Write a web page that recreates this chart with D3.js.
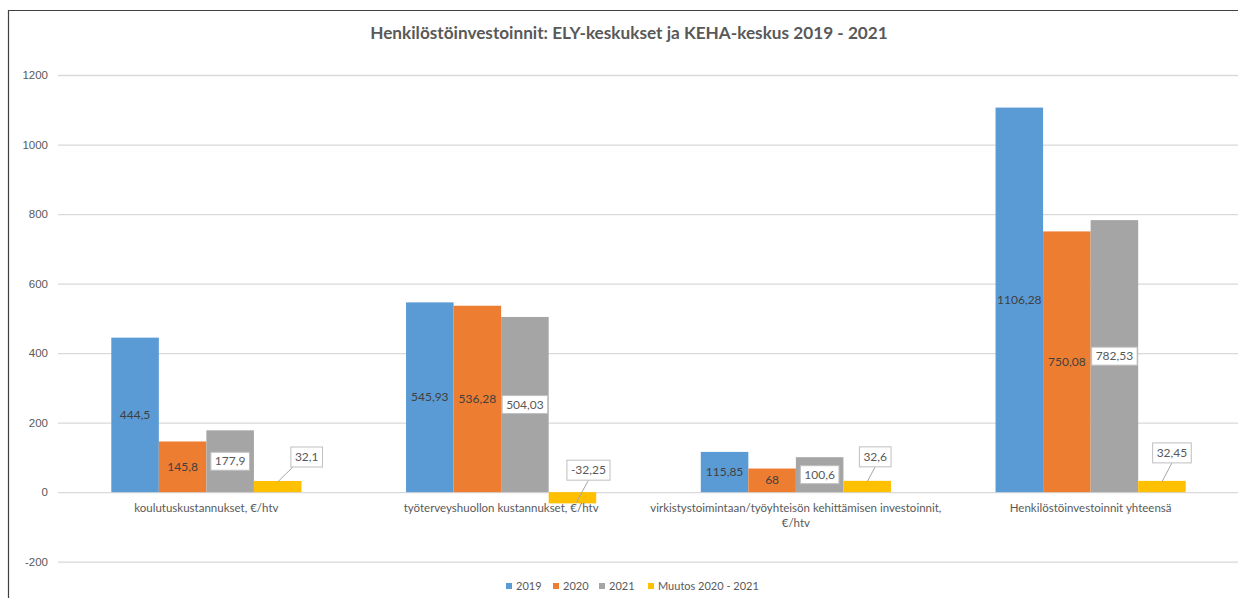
<!DOCTYPE html>
<html><head><meta charset="utf-8">
<script src="https://cdn.jsdelivr.net/npm/d3@7"></script>
<style>
html,body{margin:0;padding:0;background:#fff;}
svg{display:block;font-family:"Lato","Open Sans",sans-serif;}
</style></head>
<body><svg id="chart" width="1238" height="598"></svg>
<script>
const title = "Henkilöstöinvestoinnit: ELY-keskukset ja KEHA-keskus 2019 - 2021";
const categories = [
  ["koulutuskustannukset, €/htv"],
  ["työterveyshuollon kustannukset, €/htv"],
  ["virkistystoimintaan/työyhteisön kehittämisen investoinnit,", "€/htv"],
  ["Henkilöstöinvestoinnit yhteensä"]
];
const seriesNames = ["2019", "2020", "2021", "Muutos 2020 - 2021"];
const values2019 = [444.5, 545.93, 115.85, 1106.28];
const values2020 = [145.8, 536.28, 68, 750.08];
const values2021 = [177.9, 504.03, 100.6, 782.53];
const valuesChange = [32.1, -32.25, 32.6, 32.45];
const yTicks = [-200, 0, 200, 400, 600, 800, 1000, 1200];
const colors = ["#5B9BD5", "#ED7D31", "#A5A5A5", "#FFC000"];
// callout placement (layout only): box centre x offset from bar centre, gap above bar top
const calloutLayout = [[29, 14], [16, 12], [8, 14], [10, 18]];

const series = [values2019, values2020, values2021, valuesChange];
const fmt = v => String(v).replace(".", ",");

const svg = d3.select("#chart");
const W = 1238, H = 598;
const plot = {left: 59, right: 1238, top: 75, bottom: 561.7};

// frame
svg.append("path").attr("d", `M8.5,${H} V10.5 H${W}`).attr("fill", "none")
  .attr("stroke", "#404040").attr("stroke-width", 1.2);

const x0 = d3.scaleBand().domain(d3.range(categories.length))
  .range([plot.left, plot.right]).paddingInner(0).paddingOuter(0);
const x1 = d3.scaleBand().domain(d3.range(series.length))
  .range([0, x0.bandwidth()]).paddingInner(0).paddingOuter(1.1);
const y = d3.scaleLinear().domain([-200, 1200]).range([plot.bottom, plot.top]);

// gridlines + y axis
const yAxis = d3.axisLeft(y).tickValues(yTicks).tickSize(-(plot.right - 58)).tickPadding(10).tickFormat(d => String(d));
const ga = svg.append("g").attr("transform", `translate(58,0)`).call(yAxis);
ga.select(".domain").remove();
ga.selectAll(".tick line").attr("stroke", "#D9D9D9").attr("stroke-width", 1.3);
ga.selectAll(".tick text").attr("fill", "#595959").attr("font-size", 11.5);

// title
svg.append("text").attr("x", 629).attr("y", 39).attr("text-anchor", "middle")
  .attr("font-size", 17.2).attr("font-weight", "bold").attr("fill", "#595959").text(title);

// bars
categories.forEach((c, ci) => {
  series.forEach((s, si) => {
    const v = s[ci];
    const bx = x0(ci) + x1(si);
    svg.append("rect").attr("x", bx).attr("width", x1.bandwidth())
      .attr("y", y(Math.max(0, v))).attr("height", Math.abs(y(v) - y(0)))
      .attr("fill", colors[si]);
  });
});

// category labels
categories.forEach((c, ci) => {
  const t = svg.append("text").attr("x", x0(ci) + x0.bandwidth() / 2).attr("y", 512)
    .attr("text-anchor", "middle").attr("font-size", 11.5).attr("fill", "#595959");
  c.forEach((line, li) => t.append("tspan").attr("x", x0(ci) + x0.bandwidth() / 2)
    .attr("dy", li === 0 ? 0 : 15).text(line));
});

// data labels (centre)
categories.forEach((c, ci) => {
  [0, 1, 2].forEach(si => {
    const v = series[si][ci];
    const cx = x0(ci) + x1(si) + x1.bandwidth() / 2;
    const cy = (y(v) + y(0)) / 2;
    const g = svg.append("g");
    const t = g.append("text").attr("x", cx).attr("y", cy + 4).attr("text-anchor", "middle")
      .attr("font-size", 12).attr("fill", "#404040").text(fmt(v));
    if (si === 2) {
      const bb = t.node().getBBox();
      g.insert("rect", "text").attr("x", bb.x - 4).attr("y", cy - 9).attr("width", bb.width + 8)
        .attr("height", 18).attr("fill", "#fff").attr("stroke", "#BFBFBF");
      t.attr("fill", "#595959");
    }
  });
  // callout for change series
  const v = valuesChange[ci];
  const bcx = x0(ci) + x1(3) + x1.bandwidth() / 2;
  const [dx, gap] = calloutLayout[ci];
  const boxCx = bcx + dx;
  const boxBottom = y(Math.max(0, v)) - gap;
  const g = svg.append("g");
  const t = g.append("text").attr("x", boxCx).attr("y", boxBottom - 6).attr("text-anchor", "middle")
    .attr("font-size", 12).attr("fill", "#595959").text(fmt(v));
  const bb = t.node().getBBox();
  const bl = bb.x - 4, br = bb.x + bb.width + 4;
  const ex = bcx < bl ? bl + 2 : boxCx;
  g.insert("line", "text").attr("x1", v >= 0 ? bcx : bcx + 4).attr("y1", v >= 0 ? y(v) + 1 : y(v) - 1)
    .attr("x2", ex).attr("y2", boxBottom).attr("stroke", "#A6A6A6").attr("stroke-width", 1);
  g.insert("rect", "text").attr("x", bl).attr("y", boxBottom - 20).attr("width", br - bl)
    .attr("height", 20).attr("fill", "#fff").attr("stroke", "#BFBFBF");
});

// legend
const legendX = [506, 553, 599, 648];
seriesNames.forEach((n, i) => {
  svg.append("rect").attr("x", legendX[i]).attr("y", 583).attr("width", 6).attr("height", 6).attr("fill", colors[i]);
  svg.append("text").attr("x", legendX[i] + 10).attr("y", 590).attr("font-size", 11)
    .attr("fill", "#595959").text(n);
});
</script></body></html>
